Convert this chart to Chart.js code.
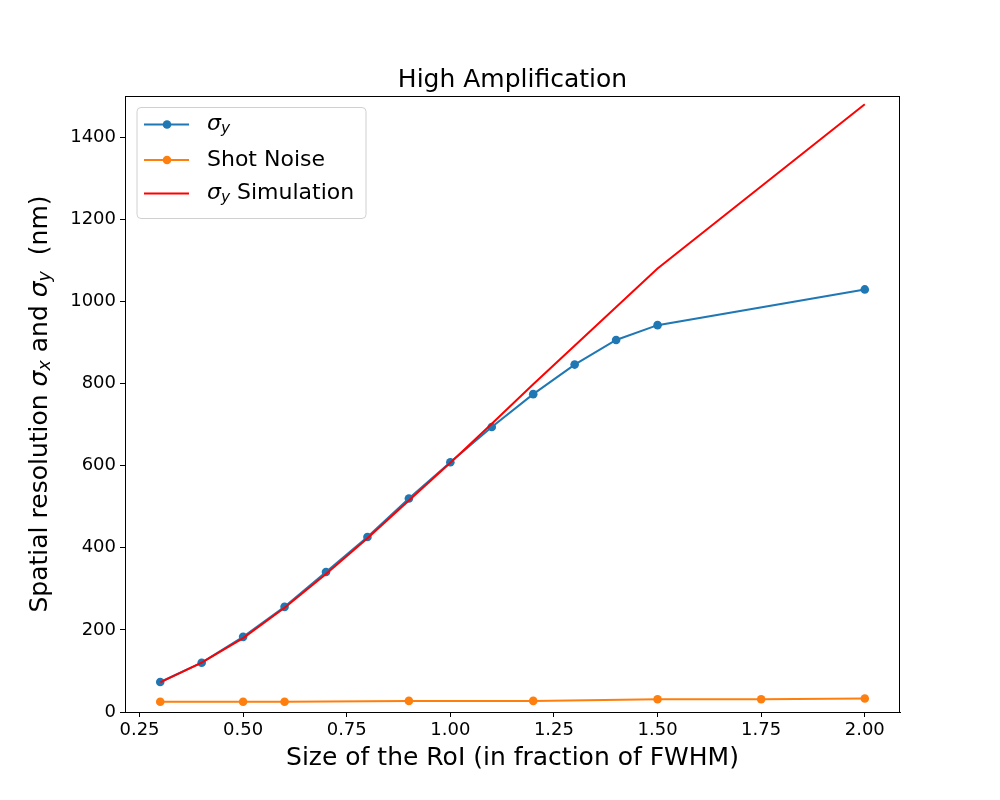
<!DOCTYPE html>
<html lang="en">
<head>
  <meta charset="UTF-8">
  <title>High Amplification</title>
  <script src="https://cdn.jsdelivr.net/npm/chart.js"></script>
  <style>
    body { margin: 0; background: #fff; }
    canvas { display: block; }
  </style>
</head>
<body>
<canvas id="chart" width="1000" height="800"></canvas>
<script>
// data
const xSigma = [0.3, 0.4, 0.5, 0.6, 0.7, 0.8, 0.9, 1.0, 1.1, 1.2, 1.3, 1.4, 1.5, 2.0];
const sigmaY = [73, 120, 183, 256, 341, 426, 520, 608, 694, 774, 846, 906, 942, 1029];
const xShot = [0.3, 0.5, 0.6, 0.9, 1.2, 1.5, 1.75, 2.0];
const shotNoise = [25, 25, 25, 27, 27, 31, 31, 33];
const xSim = [0.3, 0.4, 0.5, 0.6, 0.7, 0.8, 0.9, 1.0, 1.1, 1.2, 1.5, 2.0];
const sigmaYSim = [72, 120, 180, 254, 336, 423, 515, 607, 702, 798, 1080, 1480];
const xTicks = [0.25, 0.5, 0.75, 1.0, 1.25, 1.5, 1.75, 2.0];
const yTicks = [0, 200, 400, 600, 800, 1000, 1200, 1400];

const FONT = '"DejaVu Sans", sans-serif';
const BLUE = '#1f77b4', ORANGE = '#ff7f0e', RED = '#ff0000';

const pts = (xs, ys) => xs.map((x, i) => ({x, y: ys[i]}));

// draws text runs with optional italic / subscript parts, returns width
function richText(ctx, parts, x, y, size, measureOnly) {
  let cx = x;
  for (const p of parts) {
    const s = p.sub ? size * 0.7 : size;
    ctx.font = (p.it ? 'italic ' : '') + s + 'px ' + FONT;
    if (!measureOnly) ctx.fillText(p.t, cx, p.sub ? y + size * 0.22 : y);
    cx += ctx.measureText(p.t).width;
  }
  return cx - x;
}

const decor = {
  id: 'decor',
  afterDraw(chart) {
    const {ctx, chartArea: a} = chart;
    ctx.save();
    // frame
    ctx.strokeStyle = '#000'; ctx.lineWidth = 1;
    ctx.strokeRect(a.left + 0.5, a.top + 0.5, a.right - a.left - 1, a.bottom - a.top);
    ctx.fillStyle = '#000';
    ctx.textBaseline = 'middle';
    ctx.textAlign = 'center';
    const cx = (a.left + a.right) / 2;
    ctx.font = '25px ' + FONT;
    ctx.fillText('High Amplification', cx, 80);
    ctx.fillText('Size of the RoI (in fraction of FWHM)', cx, 758);

    // y title
    ctx.textAlign = 'left';
    const yParts = [
      {t: 'Spatial resolution '}, {t: 'σ', it: true}, {t: 'x', it: true, sub: true},
      {t: ' and '}, {t: 'σ', it: true}, {t: 'y', it: true, sub: true}, {t: '  (nm)'}
    ];
    ctx.translate(40, (a.top + a.bottom) / 2);
    ctx.rotate(-Math.PI / 2);
    const w = richText(ctx, yParts, 0, 0, 25, true);
    richText(ctx, yParts, -w / 2, 0, 25, false);
    ctx.setTransform(1, 0, 0, 1, 0, 0);

    // legend
    const L = 137, T = 107.5, W = 229, H = 111;
    ctx.beginPath();
    ctx.roundRect(L, T, W, H, 4);
    ctx.fillStyle = 'rgba(255,255,255,0.8)';
    ctx.fill();
    ctx.strokeStyle = '#d0d0d0';
    ctx.stroke();
    const rows = [
      {c: BLUE, marker: true, parts: [{t: 'σ', it: true}, {t: 'y', it: true, sub: true}]},
      {c: ORANGE, marker: true, parts: [{t: 'Shot Noise'}]},
      {c: RED, marker: false, parts: [{t: 'σ', it: true}, {t: 'y', it: true, sub: true}, {t: ' Simulation'}]}
    ];
    const rowY = [124.5, 160, 193.5];
    rows.forEach((r, i) => {
      const y = rowY[i];
      ctx.strokeStyle = r.c; ctx.lineWidth = 2;
      ctx.beginPath(); ctx.moveTo(144, y); ctx.lineTo(189, y); ctx.stroke();
      if (r.marker) {
        ctx.fillStyle = r.c;
        ctx.beginPath(); ctx.arc(167, y, 4.3, 0, Math.PI * 2); ctx.fill();
      }
      ctx.fillStyle = '#000';
      richText(ctx, r.parts, 207, y, 22, false);
    });
    ctx.restore();
  }
};

new Chart(document.getElementById('chart').getContext('2d'), {
  type: 'scatter',
  data: {
    datasets: [
      {label: 'σy', data: pts(xSigma, sigmaY), showLine: true, borderColor: BLUE, backgroundColor: BLUE,
       borderWidth: 2, pointRadius: 4.3, pointHoverRadius: 4.3, pointBorderWidth: 0, order: 3},
      {label: 'Shot Noise', data: pts(xShot, shotNoise), showLine: true, borderColor: ORANGE, backgroundColor: ORANGE,
       borderWidth: 2, pointRadius: 4.3, pointHoverRadius: 4.3, pointBorderWidth: 0, order: 2},
      {label: 'σy Simulation', data: pts(xSim, sigmaYSim), showLine: true, borderColor: RED, backgroundColor: RED,
       borderWidth: 2, pointRadius: 0, order: 1}
    ]
  },
  options: {
    responsive: false,
    animation: false,
    devicePixelRatio: 1,
    layout: {padding: {left: 0, right: 100, top: 96, bottom: 0}},
    plugins: {legend: {display: false}, title: {display: false}, tooltip: {enabled: false}},
    scales: {
      x: {
        type: 'linear', min: 0.215, max: 2.085,
        afterBuildTicks: s => { s.ticks = xTicks.map(v => ({value: v})); },
        afterFit: s => { s.height = 88; },
        grid: {drawOnChartArea: false, drawTicks: true, tickLength: 5, color: '#000'},
        border: {display: true, color: '#000', width: 1},
        ticks: {color: '#000', padding: 3, maxRotation: 0, font: {family: FONT, size: 18},
                callback: v => v.toFixed(2)}
      },
      y: {
        type: 'linear', min: 0, max: 1500,
        afterBuildTicks: s => { s.ticks = yTicks.map(v => ({value: v})); },
        afterFit: s => { s.width = 125; },
        grid: {drawOnChartArea: false, drawTicks: true, tickLength: 5, color: '#000'},
        border: {display: true, color: '#000', width: 1},
        ticks: {color: '#000', padding: 4, font: {family: FONT, size: 18}, callback: v => String(v)}
      }
    }
  },
  plugins: [decor]
});
</script>
</body>
</html>
